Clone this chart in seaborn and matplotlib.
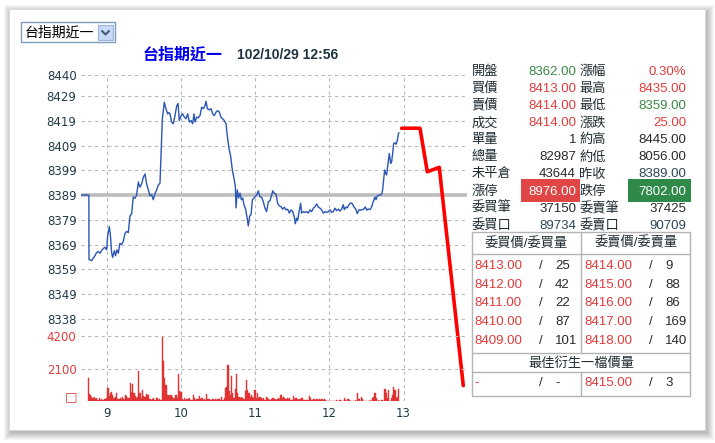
import numpy as np
import matplotlib
matplotlib.use("Agg")  # no display in the sandbox
import matplotlib.pyplot as plt
import seaborn as sns
from matplotlib.patches import Rectangle

# ---------------- data ----------------
prev_close = 8389

# minutes after 08:45 and traded price
price_minutes = [
    -6, 0.6, 0.7, 2.8, 5.5, 6.9, 8.2, 9.6, 10.9, 12.3, 13.6, 15.0, 15.8, 17.1, 17.9, 19.0,
    19.8, 21.2, 22.2, 23.3, 24.4, 25.7, 27.1, 28.4, 29.8, 31.1, 32.5, 33.8, 35.2, 36.5,
    37.9, 39.2, 40.6, 41.9, 43.3, 44.6, 46.0, 47.3, 48.7, 50.0, 51.4, 52.7, 54.0, 55.4,
    56.7, 58.1, 58.9, 60.0, 61.6, 62.7, 64.3, 65.4,
    66.2, 67.5, 68.9, 70.2, 71.6, 72.7, 73.7, 75.1, 76.4, 77.8, 79.1, 80.5, 81.8, 83.2,
    84.5, 85.6, 86.4, 87.8, 89.1, 90.5, 91.8, 93.2, 94.5, 95.3, 96.4, 98.0, 99.4, 100.7,
    102.0, 103.4, 104.7, 106.1, 107.4, 108.8, 110.1, 111.5, 112.6, 113.9, 115.3, 116.6,
    117.9, 119.0, 119.6, 120.6, 121.7, 122.8, 123.9, 125.0, 126.0, 127.4, 128.5, 129.5,
    130.6, 131.7, 132.8, 134.1,
    136.2, 137.6, 138.9, 140.3, 141.6, 143.0, 144.3, 145.7, 147.0, 148.4, 149.2, 150.5,
    151.9, 153.2, 154.6, 155.9, 157.3, 158.6, 160.0, 161.3, 162.7, 164.0, 165.4, 166.7,
    167.5, 168.6, 169.4, 170.7, 171.8, 172.6, 174.0, 175.3, 176.7, 178.0, 179.4, 180.7,
    182.1, 183.4, 184.8, 186.1, 187.5, 188.8, 190.1, 191.5, 192.8, 194.2, 195.5, 196.9,
    198.2, 199.6, 200.9, 202.3,
    203.6, 205.0, 206.3, 207.1, 208.5, 209.5, 210.9, 212.2, 213.6, 214.9, 216.3, 217.6,
    219.0, 220.3, 221.7, 223.0, 224.1, 225.2, 226.5, 227.9, 229.2, 230.6, 231.9, 232.7,
    233.8, 235.4, 237.3, 238.1, 238.9, 239.7, 240.5, 241.3, 242.7, 243.5, 244.6, 245.4,
    246.2, 247.0, 248.1, 248.9, 250.0, 250.8, 251.3,
]
price_values = [
    8389, 8389, 8362.9, 8362.5, 8364.5, 8365.8, 8366.2, 8365.5, 8366.6, 8367.4, 8367.9, 8366.9,
    8372.5, 8376.2, 8373.5, 8365.8, 8363.8, 8366.5, 8364.5, 8366.9, 8365.5, 8369.5, 8369.0,
    8370.3, 8373.5, 8374.3, 8373.8, 8380.5, 8381.5, 8388.2, 8387.7, 8389.0, 8394.3, 8392.2,
    8393.5, 8396.2, 8397.5, 8393.5, 8391.1, 8388.7, 8389.1, 8387.1, 8389.5, 8391.1, 8393.0,
    8393.8, 8404.5, 8419.8, 8426.5, 8424.2, 8421.8, 8422.3,
    8421.8, 8418.5, 8417.8, 8421.0, 8425.0, 8426.0, 8419.1, 8421.0, 8421.8, 8420.5, 8419.8,
    8421.8, 8418.5, 8419.1, 8417.8, 8421.8, 8418.5, 8420.5, 8420.2, 8421.2, 8424.5, 8423.9,
    8425.1, 8426.9, 8423.9, 8423.4, 8423.9, 8421.8, 8421.1, 8422.5, 8423.1, 8422.5, 8420.5,
    8419.8, 8419.1, 8417.8, 8412.5, 8407.8, 8404.5, 8399.1, 8395.8, 8392.5, 8383.8, 8391.1,
    8387.8, 8389.8, 8387.1, 8387.8, 8385.1, 8383.1, 8379.8, 8376.5, 8380.5, 8381.1, 8387.1,
    8387.8,
    8389.0, 8390.7, 8388.3, 8388.1, 8386.3, 8383.7, 8382.3, 8386.3, 8386.7, 8389.0, 8390.7,
    8389.7, 8389.4, 8385.7, 8384.6, 8384.3, 8383.3, 8384.1, 8383.0, 8383.3, 8381.7, 8383.0,
    8382.3, 8380.1, 8377.4, 8379.7, 8378.7, 8382.7, 8385.7, 8381.7, 8382.3, 8382.0, 8382.3,
    8381.7, 8383.0, 8382.3, 8383.7, 8384.3, 8385.4, 8384.1, 8383.7, 8383.0, 8381.7, 8382.3,
    8382.0, 8382.3, 8383.0, 8382.0, 8382.3, 8383.7, 8382.7, 8383.3,
    8382.5, 8383.4, 8385.1, 8383.1, 8384.2, 8383.8, 8385.1, 8385.8, 8385.5, 8384.2, 8383.4,
    8381.5, 8383.1, 8382.9, 8383.1, 8383.4, 8384.2, 8382.9, 8383.4, 8383.1, 8384.2, 8386.5,
    8388.2, 8387.1, 8388.7, 8389.0, 8389.3, 8391.1, 8395.1, 8399.1, 8397.8, 8397.1, 8402.5,
    8405.8, 8401.8, 8402.5, 8405.8, 8409.8, 8410.1, 8409.5, 8411.1, 8413.8, 8414.2,
]

# volume per minute from 08:45
volume = [
    1470, 450, 370, 280, 170, 240, 150, 170, 80, 170, 40, 130, 60, 150, 120,
    200, 820, 350, 500, 560, 390, 200, 280, 500, 100, 130, 170, 110, 280, 130,
    390, 350, 220, 170, 1190, 600, 1080, 500, 330, 170, 280, 1940, 500, 170, 710,
    350, 280, 450, 390, 390, 130, 60, 130, 170, 60, 220, 170, 60, 130, 60,
    4120, 2590, 1470, 1040, 390, 390, 350, 390, 280, 130, 170, 390, 220, 1750, 650,
    600, 130, 60, 220, 60, 100, 130, 170, 60, 60, 390, 220, 60, 100, 130,
    320, 100, 220, 60, 130, 60, 430, 130, 110, 60, 60, 130, 60, 110, 60,
    130, 110, 60, 280, 60, 170, 820, 930, 2330, 650, 390, 1620, 500, 170, 760,
    1730, 500, 280, 170, 280, 220, 130, 650, 1360, 710, 500, 280, 390, 280, 170,
    710, 220, 500, 170, 280, 170, 130, 170, 60, 280, 170, 110, 60, 130, 220,
    170, 110, 60, 130, 170, 110, 390, 170, 280, 170, 130, 170, 110, 220, 60,
    60, 320, 110, 170, 110, 60, 110, 130, 170, 60, 60, 60, 60, 60, 320,
    170, 60, 130, 110, 60, 130, 60, 110, 60, 130, 60, 110, 60, 0, 0,
    0, 0, 0, 0, 0, 0, 60, 0, 60, 60, 0, 0, 220, 60, 0,
    130, 60, 0, 0, 0, 0, 60, 0, 500, 130, 0, 280, 130, 0, 0,
    0, 0, 0, 60, 0, 170, 280, 500, 170, 0, 60, 0, 60, 60, 0,
    780, 500, 220, 710, 0, 220, 390, 890, 710, 170, 280, 780,
]

hour_ticks = [15, 75, 135, 195, 255]
hour_labels = ["9", "10", "11", "12", "13"]
price_ticks = [8338.8, 8349, 8359, 8369, 8379, 8389, 8399, 8409, 8419, 8429, 8437.5]
price_tick_labels = ["8338", "8349", "8359", "8369", "8379", "8389", "8399", "8409",
                     "8419", "8429", "8440"]
volume_ticks = [0, 2100, 4200]
volume_tick_labels = ["", "2100", "4200"]
volume_zero_mark = "□"

# the hand drawn red stroke
drawn_minutes = [253.5, 268.3, 274.2, 283.9, 303.3]
drawn_values = [8416, 8416, 8398.4, 8400.2, 8312]

quote_labels_l = ["開盤", "買價", "賣價", "成交", "單量", "總量", "未平倉", "漲停", "委買筆", "委買口"]
quote_values_l = ["8362.00", "8413.00", "8414.00", "8414.00", "1", "82987", "43644",
                  "8976.00", "37150", "89734"]
quote_labels_r = ["漲幅", "最高", "最低", "漲跌", "約高", "約低", "昨收", "跌停", "委賣筆", "委賣口"]
quote_values_r = ["0.30%", "8435.00", "8359.00", "25.00", "8445.00", "8056.00", "8389.00",
                  "7802.00", "37425", "90709"]

bid_prices = ["8413.00", "8412.00", "8411.00", "8410.00", "8409.00"]
bid_qty = ["25", "42", "22", "87", "101"]
ask_prices = ["8414.00", "8415.00", "8416.00", "8417.00", "8418.00"]
ask_qty = ["9", "88", "86", "169", "140"]
best_bid = ("-", "-")
best_ask = ("8415.00", "3")

product = "台指期近一"
stamp = "102/10/29 12:56"

# ---------------- styling ----------------
sns.set_style("white")
CJK = ["Liberation Sans", "Noto Sans CJK TC", "DejaVu Sans"]
plt.rcParams["font.family"] = ["DejaVu Sans", "Noto Sans CJK TC"]

GREEN = "#3a8a44"
RED = "#e23b3b"
DARK = "#262a2c"
SLATE = "#2b4656"
LABEL = "#1e2a30"
TICK = "#1f3a48"

W, H = 715, 443
fig = plt.figure(figsize=(W / 100, H / 100), dpi=100)
fig.patch.set_facecolor("white")

# overlay in pixel coordinates for panel, dropdown and quote table
bg = fig.add_axes([0, 0, 1, 1], zorder=0)
bg.set_xlim(0, W)
bg.set_ylim(H, 0)
bg.axis("off")

# soft drop shadow and white panel
for i in range(8):
    bg.add_patch(Rectangle((9 - i + 2, 9 - i + 3), 696 + 2 * i, 421 + 2 * i,
                           facecolor="black", edgecolor="none", alpha=0.035))
bg.add_patch(Rectangle((9, 9), 696, 421, facecolor="white", edgecolor="#d8d8d8", lw=0.6))

# dropdown box
bg.add_patch(Rectangle((21, 22), 94, 20, facecolor="white", edgecolor="#7f9db9", lw=1))
bg.add_patch(Rectangle((98, 25), 15, 15, facecolor="#c8daf5", edgecolor="#98b4de", lw=0.8))
bg.plot([102, 105.5, 109], [31, 34.5, 31], color="#4d6185", lw=1.6)
bg.text(25, 32.5, product, family=CJK, fontsize=10, color="black", va="center")

# title
bg.text(143, 55, product, family=CJK, fontsize=11.5, color="#0000ee",
        fontweight="bold", va="center")
bg.text(237, 55, stamp, family=CJK, fontsize=10, color="#1c3440",
        fontweight="bold", va="center")

# quote block
row_y = [71.7 + 17.13 * i for i in range(10)]
colors_l = [GREEN, RED, RED, RED, DARK, DARK, DARK, "white", DARK, SLATE]
colors_r = [RED, RED, GREEN, RED, DARK, DARK, SLATE, "white", DARK, SLATE]
bg.add_patch(Rectangle((521, 179), 59, 22.7, facecolor="#e04646", edgecolor="none"))
bg.add_patch(Rectangle((627.7, 179), 63.3, 22.7, facecolor="#2f8a4a", edgecolor="none"))
for y, l1, v1, c1, l2, v2, c2 in zip(row_y, quote_labels_l, quote_values_l, colors_l,
                                     quote_labels_r, quote_values_r, colors_r):
    bg.text(471.5, y, l1, family=CJK, fontsize=9.5, color=LABEL, va="center")
    bg.text(576, y, v1, family=CJK, fontsize=9.5, color=c1, va="center", ha="right")
    bg.text(579.5, y, l2, family=CJK, fontsize=9.5, color=LABEL, va="center")
    bg.text(686.5, y, v2, family=CJK, fontsize=9.5, color=c2, va="center", ha="right")

# order book table
line_kw = dict(color="#b4b4b4", lw=1)
bg.add_patch(Rectangle((471.7, 231.7), 218.3, 164, facecolor="none", edgecolor="#b4b4b4", lw=1))
bg.plot([471.7, 690], [254.3, 254.3], **line_kw)
bg.plot([471.7, 690], [352.7, 352.7], **line_kw)
bg.plot([471.7, 690], [371.7, 371.7], **line_kw)
bg.plot([581, 581], [231.7, 352.7], **line_kw)
bg.plot([581, 581], [371.7, 395.7], **line_kw)
bg.text(526.5, 243.3, "委買價/委買量", family=CJK, fontsize=9.5, color=LABEL,
        ha="center", va="center")
bg.text(636.5, 243.3, "委賣價/委賣量", family=CJK, fontsize=9.5, color=LABEL,
        ha="center", va="center")
book_y = [265.7 + 18.8 * i for i in range(5)]
for y, bp, bq, ap, aq in zip(book_y, bid_prices, bid_qty, ask_prices, ask_qty):
    bg.text(474.3, y, bp, family=CJK, fontsize=9.5, color=RED, va="center")
    bg.text(539, y, "/", family=CJK, fontsize=9.5, color=DARK, va="center")
    bg.text(555, y, bq, family=CJK, fontsize=9.5, color=DARK, va="center")
    bg.text(584.3, y, ap, family=CJK, fontsize=9.5, color=RED, va="center")
    bg.text(649, y, "/", family=CJK, fontsize=9.5, color=DARK, va="center")
    bg.text(665, y, aq, family=CJK, fontsize=9.5, color=DARK, va="center")
bg.text(581, 363.3, "最佳衍生一檔價量", family=CJK, fontsize=9.5, color=LABEL,
        ha="center", va="center")
bg.text(474.3, 383.3, best_bid[0], family=CJK, fontsize=9.5, color=RED, va="center")
bg.text(539, 383.3, "/", family=CJK, fontsize=9.5, color=DARK, va="center")
bg.text(555, 383.3, best_bid[1], family=CJK, fontsize=9.5, color=DARK, va="center")
bg.text(584.3, 383.3, best_ask[0], family=CJK, fontsize=9.5, color=RED, va="center")
bg.text(649, 383.3, "/", family=CJK, fontsize=9.5, color=DARK, va="center")
bg.text(665, 383.3, best_ask[1], family=CJK, fontsize=9.5, color=DARK, va="center")

# small box marking the volume baseline
bg.text(71.5, 397, volume_zero_mark, family="DejaVu Sans", fontsize=9.5, color=RED,
        ha="center", va="center")

# ---------------- intraday chart ----------------
left, right, top, bottom = 80.7, 467, 75, 401
ax = fig.add_axes([left / W, (H - bottom) / H, (right - left) / W, (bottom - top) / H], zorder=1)
ax.patch.set_visible(False)
ax.set_xlim(-6, 306.3)
ax.set_ylim(8305.8, 8437.5)

ax.axhline(prev_close, color="#bdbdbd", lw=2.6, zorder=1)
sns.lineplot(x=price_minutes, y=price_values, ax=ax, color="#2a56b4", linewidth=1.0,
             estimator=None, sort=False, zorder=3)
sns.lineplot(x=drawn_minutes, y=drawn_values, ax=ax, color="#ff0000", linewidth=2.6,
             estimator=None, sort=False, zorder=4)

ax.set_yticks(price_ticks)
ax.set_yticklabels(price_tick_labels)
ax.set_xticks(hour_ticks)
ax.set_xticklabels(hour_labels)
ax.grid(True, color="#b8b8b8", linestyle=(0, (3, 3)), lw=0.8)
ax.tick_params(axis="y", length=0, pad=3, labelsize=8.5, labelcolor=TICK)
ax.tick_params(axis="x", length=0, pad=4, labelsize=8.5, labelcolor=TICK)
for s in ax.spines.values():
    s.set_visible(False)

vx = ax.twinx()
vx.set_zorder(2)
vx.patch.set_visible(False)
vx.bar(np.arange(len(volume)), volume, width=1.0, color="#e03434",
       edgecolor="#e03434", linewidth=0.3)
vx.set_ylim(0, 4200 * (bottom - top) / 65)
vx.yaxis.tick_left()
vx.set_yticks(volume_ticks)
vx.set_yticklabels(volume_tick_labels)
vx.grid(True, axis="y", color="#b8b8b8", linestyle=(0, (3, 3)), lw=0.8)
vx.tick_params(axis="y", length=0, pad=3, labelsize=8.5, labelcolor=RED)
for s in vx.spines.values():
    s.set_visible(False)
ax.set_xlabel("")
ax.set_ylabel("")

fig.savefig("out.png", dpi=100)
